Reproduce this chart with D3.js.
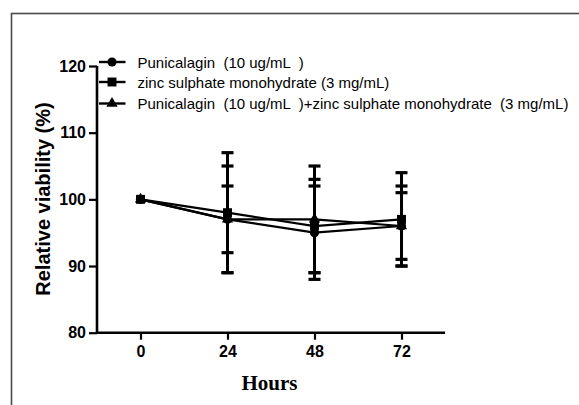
<!DOCTYPE html>
<html>
<head>
<meta charset="utf-8">
<title>Relative viability</title>
<style>
  body { margin: 0; background: #fff; }
  svg { display: block; font-family: "Liberation Sans", Arial, sans-serif; }
  .legend text { white-space: pre; }
</style>
<script src="https://d3js.org/d3.v7.min.js"></script>
</head>
<body>
<div id="chart"></div>
<script>
// ******* Data *******
const hours = [0, 24, 48, 72];
const punicalagin   = [100, 97, 95, 96];
const punicalaginSD = [0, 8, 7, 6];
const zinc          = [100, 98, 96, 97];
const zincSD        = [0, 9, 7, 7];
const combo         = [100, 97, 97, 96];
const comboSD       = [0, 5, 8, 5];
const yTicks = [80, 90, 100, 110, 120];
const legendLabels = [
  "Punicalagin  (10 ug/mL  )",
  "zinc sulphate monohydrate (3 mg/mL)",
  "Punicalagin  (10 ug/mL  )+zinc sulphate monohydrate  (3 mg/mL)"
];

const series = [
  {name: legendLabels[0], values: punicalagin, sd: punicalaginSD, shape: d3.symbolCircle, size: 65},
  {name: legendLabels[1], values: zinc, sd: zincSD, shape: d3.symbolSquare, size: 80},
  {name: legendLabels[2], values: combo, sd: comboSD, shape: d3.symbolTriangle, size: 55}
];

const width = 579, height = 405;

const svg = d3.select("#chart").append("svg")
    .attr("width", width)
    .attr("height", height);

// frame
svg.append("rect")
    .attr("x", 11.5).attr("y", 13.5)
    .attr("width", 600).attr("height", 420)
    .attr("fill", "none")
    .attr("stroke", "#4a4a4a")
    .attr("stroke-width", 1.6);

// ******* Scales *******
const x = d3.scaleLinear().domain([-12, 84]).range([97, 445]);
const y = d3.scaleLinear().domain([80, 120]).range([332.7, 66]);

// ******* Axes *******
const yAxis = svg.append("g")
    .attr("transform", "translate(97,0)")
    .call(d3.axisLeft(y).tickValues(yTicks).tickSize(8).tickPadding(3));
const xAxis = svg.append("g")
    .attr("transform", "translate(0,332.7)")
    .call(d3.axisBottom(x).tickValues(hours).tickSize(7).tickPadding(6));

[xAxis, yAxis].forEach(function(g) {
  g.select(".domain").attr("stroke", "#000").attr("stroke-width", 2.6);
  g.selectAll(".tick line").attr("stroke", "#000").attr("stroke-width", 2.2);
  g.selectAll(".tick text")
      .attr("fill", "#000")
      .attr("font-family", "'Liberation Sans', Arial, sans-serif")
      .attr("font-weight", "bold")
      .attr("font-size", 16);
});
// no outer tick stubs on the domain path
yAxis.select(".domain").attr("d", "M0," + y(120) + "V" + y(80));
xAxis.select(".domain").attr("d", "M97,0H445");

// axis titles
svg.append("text")
    .attr("transform", "translate(50,199) rotate(-90)")
    .attr("text-anchor", "middle")
    .attr("font-weight", "bold")
    .attr("font-size", 20)
    .text("Relative viability (%)");

svg.append("text")
    .attr("x", 269.5).attr("y", 390)
    .attr("text-anchor", "middle")
    .attr("font-family", "'Liberation Serif', 'Times New Roman', serif")
    .attr("font-weight", "bold")
    .attr("font-size", 21)
    .text("Hours");

// ******* Error bars *******
const capW = 6;
series.forEach(function(s) {
  const g = svg.append("g");
  hours.forEach(function(h, i) {
    if (!s.sd[i]) return;
    const cx = x(h), lo = y(s.values[i] - s.sd[i]), hi = y(s.values[i] + s.sd[i]);
    g.append("line").attr("x1", cx).attr("x2", cx).attr("y1", lo).attr("y2", hi)
        .attr("stroke", "#000").attr("stroke-width", 3);
    [lo, hi].forEach(function(v) {
      g.append("line").attr("x1", cx - capW).attr("x2", cx + capW).attr("y1", v).attr("y2", v)
          .attr("stroke", "#000").attr("stroke-width", 3.2);
    });
  });
});

// ******* Lines *******
const line = d3.line()
    .x(function(d, i) { return x(hours[i]); })
    .y(function(d) { return y(d); });

series.forEach(function(s) {
  svg.append("path")
      .datum(s.values)
      .attr("d", line)
      .attr("fill", "none")
      .attr("stroke", "#000")
      .attr("stroke-width", 2.2);
});

// ******* Markers *******
[series[2], series[0], series[1]].forEach(function(s) {
  svg.selectAll(null)
      .data(s.values)
      .enter()
      .append("path")
      .attr("d", d3.symbol().type(s.shape).size(s.size)())
      .attr("transform", function(d, i) { return "translate(" + x(hours[i]) + "," + y(d) + ")"; })
      .attr("fill", "#000");
});

// ******* Legend *******
const legendY = [62, 82, 103.5];
const legend = svg.append("g").attr("class", "legend");
series.forEach(function(s, i) {
  const ly = legendY[i];
  legend.append("line")
      .attr("x1", 99).attr("x2", 125.5).attr("y1", ly).attr("y2", ly)
      .attr("stroke", "#000").attr("stroke-width", 2.4);
  legend.append("path")
      .attr("d", d3.symbol().type(s.shape).size(s.size)())
      .attr("transform", "translate(112," + ly + ")")
      .attr("fill", "#000");
  legend.append("text")
      .attr("x", 137.5).attr("y", ly + 5.5)
      .attr("font-size", 15)
      .attr("fill", "#000")
      .text(s.name);
});
</script>
</body>
</html>
